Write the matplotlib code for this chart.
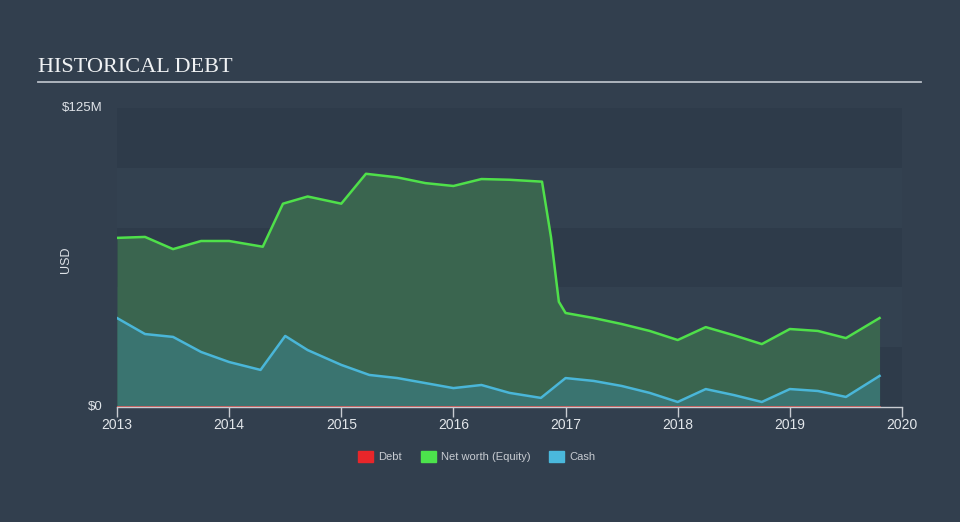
import matplotlib
matplotlib.use("Agg")
import matplotlib.pyplot as plt
import numpy as np

# ---- data (USD millions) ----
nw_x = [2013.0, 2013.25, 2013.5, 2013.75, 2014.0, 2014.3, 2014.48, 2014.7, 2015.0, 2015.22,
        2015.5, 2015.75, 2016.0, 2016.25, 2016.5, 2016.79, 2016.87, 2016.94, 2017.0, 2017.25,
        2017.5, 2017.75, 2018.0, 2018.25, 2018.5, 2018.75, 2019.0, 2019.25, 2019.5, 2019.8]
nw_y = [70.7, 71.1, 66.0, 69.4, 69.4, 67.0, 85.0, 88.0, 85.0, 97.5,
        96.0, 93.6, 92.4, 95.3, 95.0, 94.2, 71.0, 44.0, 39.3, 37.2,
        34.7, 31.8, 28.0, 33.4, 30.0, 26.3, 32.6, 31.8, 28.8, 37.2]

cash_x = [2013.0, 2013.25, 2013.5, 2013.75, 2014.0, 2014.28, 2014.5, 2014.7, 2015.0, 2015.25,
          2015.5, 2015.75, 2016.0, 2016.25, 2016.5, 2016.78, 2017.0, 2017.25, 2017.5, 2017.75,
          2018.0, 2018.25, 2018.5, 2018.75, 2019.0, 2019.25, 2019.5, 2019.8]
cash_y = [37.2, 30.5, 29.3, 23.0, 18.8, 15.5, 29.7, 23.8, 17.6, 13.4,
          12.1, 10.0, 7.9, 9.2, 5.9, 3.8, 12.1, 10.9, 8.8, 5.9,
          2.1, 7.5, 5.0, 2.1, 7.5, 6.7, 4.2, 13.0]

debt_x = [2013.0, 2019.8]
debt_y = [0.0, 0.0]

years = [2013, 2014, 2015, 2016, 2017, 2018, 2019, 2020]
legend_labels = ["Debt", "Net worth (Equity)", "Cash"]

# ---- figure ----
W, H = 960, 522
BG = "#323f4e"
fig = plt.figure(figsize=(W / 100, H / 100), dpi=100)
fig.patch.set_facecolor(BG)

L, R = 117 / W, 902 / W
B, T = (H - 407) / H, (H - 108) / H
ax = fig.add_axes([L, B, R - L, T - B])
ax.set_facecolor(BG)
ax.set_xlim(2013, 2020)
ax.set_ylim(0, 125)

# horizontal bands
band_dark = "#2e3b4a"
band_light = "#334150"
for i in range(5):
    ax.axhspan(i * 25, (i + 1) * 25, color=band_dark if i % 2 == 0 else band_light,
               lw=0, zorder=0)

green_line = "#4fe04a"
green_fill = "#3a654f"
cash_line = "#4ab6d8"
cash_fill = "#3a7470"

ax.fill_between(nw_x, nw_y, 0, color=green_fill, lw=0, zorder=1)
ax.plot(nw_x, nw_y, color=green_line, lw=1.8, zorder=3, solid_joinstyle="round")
ax.fill_between(cash_x, cash_y, 0, color=cash_fill, lw=0, zorder=2)
ax.plot(cash_x, cash_y, color=cash_line, lw=1.8, zorder=4, solid_joinstyle="round")
ax.plot(debt_x, debt_y, color="#d86060", lw=1.2, zorder=5)

for s in ["top", "right", "left"]:
    ax.spines[s].set_visible(False)
ax.spines["bottom"].set_color("#c8ccd2")
ax.spines["bottom"].set_linewidth(1.0)
ax.set_xticks(years)
ax.set_xticklabels([str(y) for y in years], family="Liberation Sans")
ax.tick_params(axis="x", colors="#c8ccd2", length=7, width=1, labelsize=10,
               labelcolor="#e2e6ea", pad=1)
ax.set_yticks([])

fig.text(103 / W, 1 - 108 / H, "$125M", ha="right", va="center", color="#dfe3e8",
         fontsize=9.5, family="Liberation Sans")
fig.text(103 / W, 1 - 407 / H, "$0", ha="right", va="center", color="#dfe3e8",
         fontsize=9.5, family="Liberation Sans")
fig.text(66 / W, 1 - 260 / H, "USD", ha="center", va="center", rotation=90,
         color="#dfe3e8", fontsize=9, family="Liberation Sans")

# title
fig.text(38 / W, 1 - 67 / H, "HISTORICAL DEBT", ha="left", va="center",
         color="#f0f2f4", fontsize=16, family="Liberation Serif")
fig.add_artist(plt.Line2D([38 / W, 921 / W], [1 - 82 / H, 1 - 82 / H],
                          color="#b8bec6", lw=1.3))

# legend
leg_colors = ["#e8262a", "#4ce34c", "#4ab8dc"]
leg_x = [358, 421, 549]
for lx, lab, col in zip(leg_x, legend_labels, leg_colors):
    fig.patches.append(plt.Rectangle((lx / W, 1 - 462 / H), 15 / W, 11 / H,
                                     transform=fig.transFigure, color=col))
    fig.text((lx + 20) / W, 1 - 456.5 / H, lab, ha="left", va="center",
             color="#c8ccd2", fontsize=8, family="Liberation Sans")

fig.savefig("out.png", dpi=100, facecolor=fig.get_facecolor())
